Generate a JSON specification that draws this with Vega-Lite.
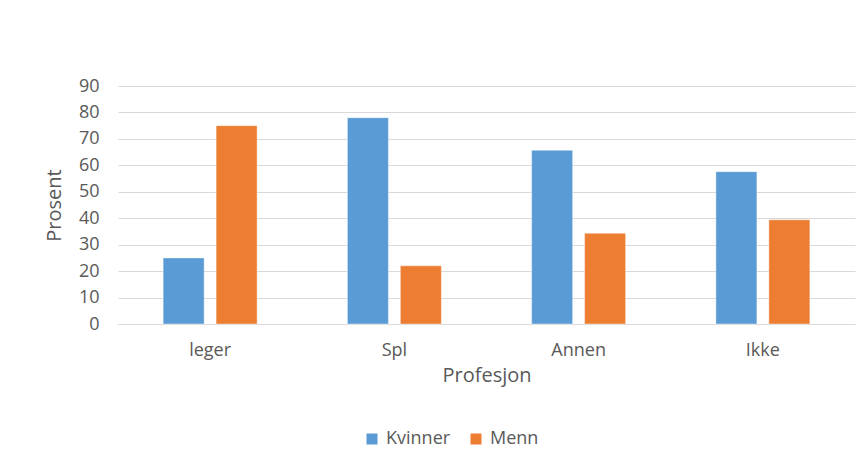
{
  "$schema": "https://vega.github.io/schema/vega-lite/v6.json",
  "width": 737,
  "height": 238,
  "autosize": "none",
  "padding": {"left": 118, "top": 86, "right": 12, "bottom": 139},
  "background": "#ffffff",
  "config": {
    "view": {"stroke": null},
    "font": "Open Sans"
  },
  "data": {
    "values": [
      {"Profesjon": "leger", "Kjønn": "Kvinner", "Prosent": 25},
      {"Profesjon": "leger", "Kjønn": "Menn", "Prosent": 75},
      {"Profesjon": "Spl", "Kjønn": "Kvinner", "Prosent": 78},
      {"Profesjon": "Spl", "Kjønn": "Menn", "Prosent": 22},
      {"Profesjon": "Annen", "Kjønn": "Kvinner", "Prosent": 65.7},
      {"Profesjon": "Annen", "Kjønn": "Menn", "Prosent": 34.3},
      {"Profesjon": "Ikke", "Kjønn": "Kvinner", "Prosent": 57.6},
      {"Profesjon": "Ikke", "Kjønn": "Menn", "Prosent": 39.4}
    ]
  },
  "mark": {"type": "bar", "stroke": "#ffffff", "strokeOpacity": 0.4, "strokeWidth": 1},
  "encoding": {
    "x": {
      "field": "Profesjon",
      "type": "nominal",
      "sort": ["leger", "Spl", "Annen", "Ikke"],
      "scale": {"paddingInner": 0.49, "paddingOuter": 0.245},
      "axis": {
        "title": "Profesjon",
        "labelAngle": 0,
        "labelFontSize": 18,
        "labelColor": "#595959",
        "labelPadding": 17,
        "titleFontSize": 20,
        "titleFontWeight": "normal",
        "titleColor": "#595959",
        "titlePadding": 6,
        "ticks": false,
        "domain": true,
        "domainColor": "#d9d9d9",
        "grid": false
      }
    },
    "xOffset": {
      "field": "Kjønn",
      "type": "nominal",
      "scale": {"paddingInner": 0.226, "paddingOuter": 0}
    },
    "y": {
      "field": "Prosent",
      "type": "quantitative",
      "scale": {"domain": [0, 90], "nice": false},
      "axis": {
        "title": "Prosent",
        "values": [0, 10, 20, 30, 40, 50, 60, 70, 80, 90],
        "labelFontSize": 18,
        "labelColor": "#595959",
        "labelPadding": 19,
        "titleFontSize": 20,
        "titleFontWeight": "normal",
        "titleColor": "#595959",
        "titlePadding": 14,
        "ticks": false,
        "domain": false,
        "gridColor": "#d9d9d9",
        "gridWidth": 1
      }
    },
    "color": {
      "field": "Kjønn",
      "type": "nominal",
      "scale": {"domain": ["Kvinner", "Menn"], "range": ["#5B9BD5", "#ED7D31"]},
      "legend": {
        "title": null,
        "orient": "none",
        "legendX": 245,
        "legendY": 344,
        "direction": "horizontal",
        "symbolType": "square",
        "symbolSize": 121,
        "symbolStrokeWidth": 0,
        "labelFontSize": 18,
        "labelColor": "#595959",
        "columnPadding": 16,
        "labelOffset": 5
      }
    }
  }
}
